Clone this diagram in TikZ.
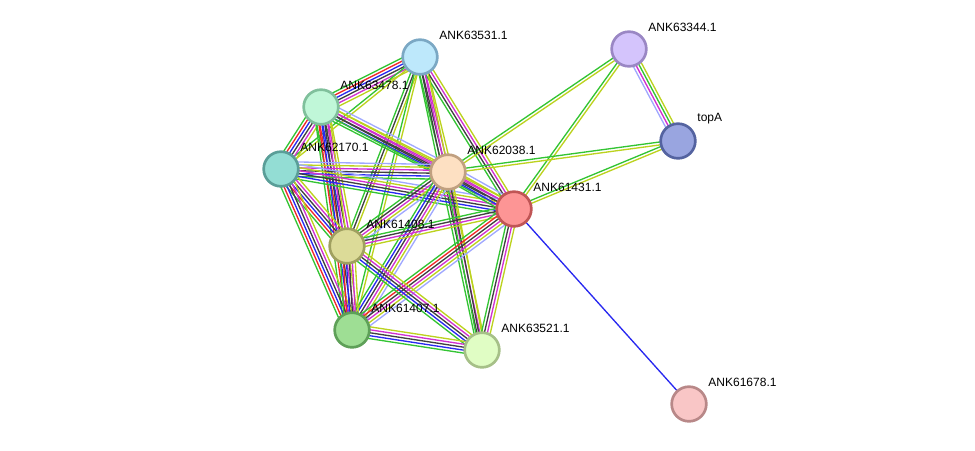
\documentclass[tikz,border=0pt]{standalone}
\usepackage{fontspec}
\setmainfont{Liberation Sans}
\usetikzlibrary{calc,backgrounds}
\definecolor{sgreen}{HTML}{33C433}
\definecolor{sred}{HTML}{F02828}
\definecolor{sblue}{HTML}{2828F0}
\definecolor{sblack}{HTML}{404040}
\definecolor{smag}{HTML}{D030D0}
\definecolor{syel}{HTML}{BCD21E}
\definecolor{slav}{HTML}{A0A8FF}
% node fills and rims
\definecolor{fa}{HTML}{BDE8FB}\definecolor{ra}{HTML}{7BA8C4}
\definecolor{fb}{HTML}{D4C4FC}\definecolor{rb}{HTML}{9A87C4}
\definecolor{fc}{HTML}{C0F7D8}\definecolor{rc}{HTML}{80C09C}
\definecolor{ft}{HTML}{99A5E0}\definecolor{rt}{HTML}{5463A0}
\definecolor{fd}{HTML}{93DDD4}\definecolor{rd}{HTML}{5A9E98}
\definecolor{fe}{HTML}{FDE0C2}\definecolor{re}{HTML}{C0A080}
\definecolor{ff}{HTML}{FD9595}\definecolor{rf}{HTML}{C05555}
\definecolor{fg}{HTML}{DCDB98}\definecolor{rg}{HTML}{A0A060}
\definecolor{fh}{HTML}{9EDE94}\definecolor{rh}{HTML}{5EA058}
\definecolor{fi}{HTML}{E0FDC4}\definecolor{ri}{HTML}{A6C088}
\definecolor{fj}{HTML}{F9C6C6}\definecolor{rj}{HTML}{B88888}
\tikzset{
  protein/.style={circle, minimum size=26pt, inner sep=0pt, line width=2pt},
  lbl/.style={font=\fontsize{9}{10}\selectfont, inner sep=0pt, xshift=4.5pt, yshift=3pt},
  link/.style={line width=1pt}
}
\newcommand{\linkbundle}[3]{%
  \foreach \c [count=\i] in {#3}{\xdef\nlines{\i}}%
  \foreach \c [count=\i] in {#3}{%
    \pgfmathsetmacro{\off}{(\i-(\nlines+1)/2)*2.2}%
    \draw[link, \c] ($(#1)!\off pt!90:(#2)$) -- ($(#2)!\off pt!-90:(#1)$);%
  }%
}
\begin{document}
\begin{tikzpicture}[x=0.75pt, y=-0.75pt]
    \useasboundingbox (0,0) rectangle (975,450);
    % proteins
    \node[protein, fill=fa, draw=ra, label={[lbl]45:ANK63531.1}] (a) at (420,57) {};
    \node[protein, fill=fb, draw=rb, label={[lbl]45:ANK63344.1}] (b) at (629,49) {};
    \node[protein, fill=fc, draw=rc, label={[lbl]45:ANK63478.1}] (c) at (321,107) {};
    \node[protein, fill=ft, draw=rt, label={[lbl]45:topA}] (t) at (678,141) {};
    \node[protein, fill=fd, draw=rd, label={[lbl]45:ANK62170.1}] (d) at (281,169) {};
    \node[protein, fill=fe, draw=re, label={[lbl]45:ANK62038.1}] (e) at (448,172) {};
    \node[protein, fill=ff, draw=rf, label={[lbl]45:ANK61431.1}] (f) at (514,209) {};
    \node[protein, fill=fg, draw=rg, label={[lbl]45:ANK61408.1}] (g) at (347,246) {};
    \node[protein, fill=fh, draw=rh, label={[lbl]45:ANK61407.1}] (h) at (352,330) {};
    \node[protein, fill=fi, draw=ri, label={[lbl]45:ANK63521.1}] (i) at (482,350) {};
    \node[protein, fill=fj, draw=rj, label={[lbl]45:ANK61678.1}] (j) at (689,404) {};
    % evidence links
    \begin{scope}[on background layer]
        \linkbundle{a}{c}{sgreen,sred,sblue,sblack,smag,syel}
        \linkbundle{a}{d}{sgreen,syel}
        \linkbundle{a}{e}{sgreen,sblack,smag,syel}
        \linkbundle{a}{f}{sgreen,sblack,smag,syel}
        \linkbundle{a}{g}{sgreen,sblack,syel}
        \linkbundle{a}{h}{sgreen,syel}
        \linkbundle{a}{i}{sgreen,sblack,smag,syel}
        \linkbundle{c}{d}{sgreen,sred,sblue,sblack,smag,syel}
        \linkbundle{c}{e}{sgreen,sblue,sblack,smag,syel,slav}
        \linkbundle{c}{f}{sgreen,sblack,smag,syel}
        \linkbundle{c}{g}{sgreen,sred,sblue,sblack,smag,syel}
        \linkbundle{c}{h}{sgreen,sred,sblue,sblack,smag,syel}
        \linkbundle{d}{e}{sgreen,sblue,sblack,smag,syel,slav}
        \linkbundle{d}{f}{sgreen,sblue,sblack,smag,syel,slav}
        \linkbundle{d}{g}{sgreen,sred,sblue,sblack,smag,syel}
        \linkbundle{d}{h}{sgreen,sred,sblue,sblack,smag,syel}
        \linkbundle{e}{f}{sgreen,sblue,sblack,smag,syel,slav}
        \linkbundle{e}{g}{sgreen,sblack,smag,syel,slav}
        \linkbundle{e}{h}{sgreen,sblue,sblack,smag,syel,slav}
        \linkbundle{e}{i}{sgreen,sblack,syel}
        \linkbundle{f}{g}{sgreen,sblack,smag,syel}
        \linkbundle{f}{h}{sgreen,sred,sblack,smag,syel,slav}
        \linkbundle{f}{i}{sgreen,sblack,smag,syel}
        \linkbundle{g}{h}{sgreen,sred,sblue,sblack,smag,syel}
        \linkbundle{g}{i}{sgreen,sblue,sblack,smag,syel}
        \linkbundle{h}{i}{sgreen,sblue,sblack,smag,syel}
        \linkbundle{b}{t}{slav,smag,sgreen,syel}
        \linkbundle{b}{e}{sgreen,syel}
        \linkbundle{b}{f}{sgreen,syel}
        \linkbundle{t}{e}{sgreen,syel}
        \linkbundle{t}{f}{sgreen,syel}
        \linkbundle{f}{j}{sblue}
    \end{scope}
\end{tikzpicture}
\end{document}
